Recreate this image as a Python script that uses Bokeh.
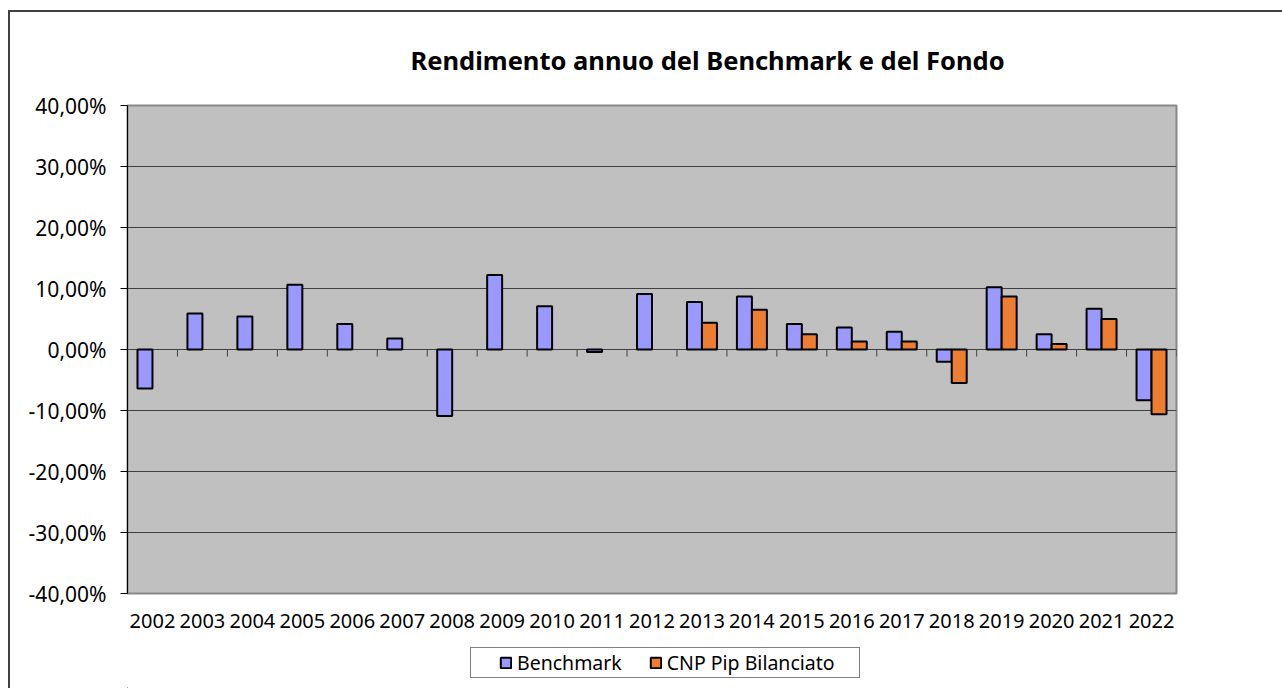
from bokeh.plotting import figure
from bokeh.layouts import column
from bokeh.models import ColumnDataSource, FactorRange, Range1d, FixedTicker, Legend, LegendItem
from bokeh.transform import dodge
from bokeh.embed import file_html
from bokeh.resources import INLINE

# ---------------- data ----------------
years = [str(y) for y in range(2002, 2023)]
benchmark = [-6.4, 5.9, 5.4, 10.6, 4.2, 1.8, -10.9, 12.2, 7.1, -0.4, 9.1,
             7.8, 8.7, 4.2, 3.6, 2.9, -2.0, 10.2, 2.5, 6.7, -8.3]
fondo = [None, None, None, None, None, None, None, None, None, None, None,
         4.4, 6.5, 2.5, 1.3, 1.3, -5.5, 8.7, 0.9, 5.0, -10.6]
y_ticks = [-40, -30, -20, -10, 0, 10, 20, 30, 40]
y_tick_labels = ["-40,00%", "-30,00%", "-20,00%", "-10,00%", "0,00%",
                 "10,00%", "20,00%", "30,00%", "40,00%"]
series_names = ["Benchmark", "CNP Pip Bilanciato"]
title_text = "Rendimento annuo del Benchmark e del Fondo"

# ---------------- style ----------------
FONT = "Noto Sans"
BENCH_COLOR = "#9999FF"
FONDO_COLOR = "#ED7D31"
FRAME_W, FRAME_H = 1049, 488
Y_MIN, Y_MAX = -40, 40
BORDER_L, BORDER_R = 117, 106

p = figure(x_range=FactorRange(*years), y_range=Range1d(Y_MIN, Y_MAX),
           frame_width=FRAME_W, frame_height=FRAME_H,
           min_border_left=BORDER_L, min_border_right=BORDER_R,
           min_border_top=92, min_border_bottom=50,
           output_backend="svg", toolbar_location=None,
           background_fill_color="#C0C0C0", border_fill_color="white")

p.title.text = title_text
p.title.text_font = FONT
p.title.text_font_size = "25.5px"
p.title.text_font_style = "bold"
p.title.text_color = "black"
p.title.align = "left"
p.title.offset = 283
p.title.standoff = 57

p.outline_line_color = "#888888"
p.outline_line_width = 2

# y axis
p.yaxis.ticker = FixedTicker(ticks=y_ticks)
p.yaxis.major_label_overrides = {t: l for t, l in zip(y_ticks, y_tick_labels)}
p.yaxis.major_label_text_font = FONT
p.yaxis.major_label_text_font_size = "21px"
p.yaxis.major_label_text_color = "black"
p.yaxis.axis_line_color = "black"
p.yaxis.major_tick_line_color = "black"
p.yaxis.major_tick_out = 7
p.yaxis.major_tick_in = 0
p.yaxis.minor_tick_line_color = None
p.yaxis.major_label_standoff = 14

# x axis
p.xaxis.axis_line_color = None
p.xaxis.major_tick_line_color = None
p.xaxis.major_label_text_font = FONT
p.xaxis.major_label_text_font_size = "20px"
p.xaxis.major_label_text_color = "black"
p.xaxis.major_label_standoff = 14

p.xgrid.grid_line_color = None
p.ygrid.ticker = FixedTicker(ticks=y_ticks[1:-1])
p.ygrid.grid_line_color = "#404040"
p.ygrid.grid_line_width = 1

# tick marks on the zero line, at category boundaries
tick_len = 7 * (Y_MAX - Y_MIN) / FRAME_H
src_t = ColumnDataSource(dict(year=years))
p.segment(x0=dodge("year", 0.5, range=p.x_range), y0=0,
          x1=dodge("year", 0.5, range=p.x_range), y1=-tick_len,
          source=src_t, line_color="#404040", line_width=1)

# bars
src_b = ColumnDataSource(dict(year=years, value=benchmark))
p.vbar(x=dodge("year", -0.15, range=p.x_range), top="value", bottom=0,
       width=0.3, source=src_b, fill_color=BENCH_COLOR,
       line_color="black", line_width=2)

f_years = [y for y, v in zip(years, fondo) if v is not None]
f_vals = [v for v in fondo if v is not None]
src_f = ColumnDataSource(dict(year=f_years, value=f_vals))
p.vbar(x=dodge("year", 0.15, range=p.x_range), top="value", bottom=0,
       width=0.3, source=src_f, fill_color=FONDO_COLOR,
       line_color="black", line_width=2)

# ---------------- legend strip below the chart ----------------
q = figure(x_range=Range1d(0, 1), y_range=Range1d(0, 1),
           frame_width=FRAME_W, frame_height=45,
           min_border_left=BORDER_L, min_border_right=BORDER_R,
           min_border_top=0, min_border_bottom=0,
           x_axis_type=None, y_axis_type=None,
           output_backend="svg", toolbar_location=None,
           background_fill_color="white", border_fill_color="white")
q.grid.grid_line_color = None
q.outline_line_color = None

# legend-swatch renderers, placed outside the visible range of the strip
qbox = q.vbar(x=[-5], top=[-5], bottom=-6, width=0.1, fill_alpha=0, line_alpha=0)
qb = q.vbar(x=[-5], top=[-5], bottom=-6, width=0.1, fill_color=BENCH_COLOR,
            line_color="black", line_width=2)
qf = q.vbar(x=[-5], top=[-5], bottom=-6, width=0.1, fill_color=FONDO_COLOR,
            line_color="black", line_width=2)

box_legend = Legend(items=[LegendItem(label=" ", renderers=[qbox])],
                    location=(343, 10), padding=0, margin=0,
                    glyph_width=388, glyph_height=29,
                    label_width=0, label_height=0, label_standoff=0,
                    label_text_font_size="1px",
                    border_line_color="black", border_line_width=1,
                    background_fill_color="white", background_fill_alpha=1)
q.add_layout(box_legend, "center")

legend = Legend(items=[LegendItem(label=series_names[0], renderers=[qb]),
                       LegendItem(label=series_names[1], renderers=[qf])],
                orientation="horizontal", location=(372, 12),
                padding=0, margin=0, spacing=27,
                glyph_width=13, glyph_height=13, label_standoff=5,
                label_height=20,
                label_text_font=FONT, label_text_font_size="19.5px",
                label_text_color="black",
                border_line_color=None, background_fill_alpha=0)
q.add_layout(legend, "center")

layout = column(p, q, spacing=0)
layout.styles = {"border-left": "2px solid #404040", "border-top": "2px solid #404040",
                 "margin-top": "10px", "margin-left": "8px"}

open("out.html", "w").write(file_html(layout, INLINE))
